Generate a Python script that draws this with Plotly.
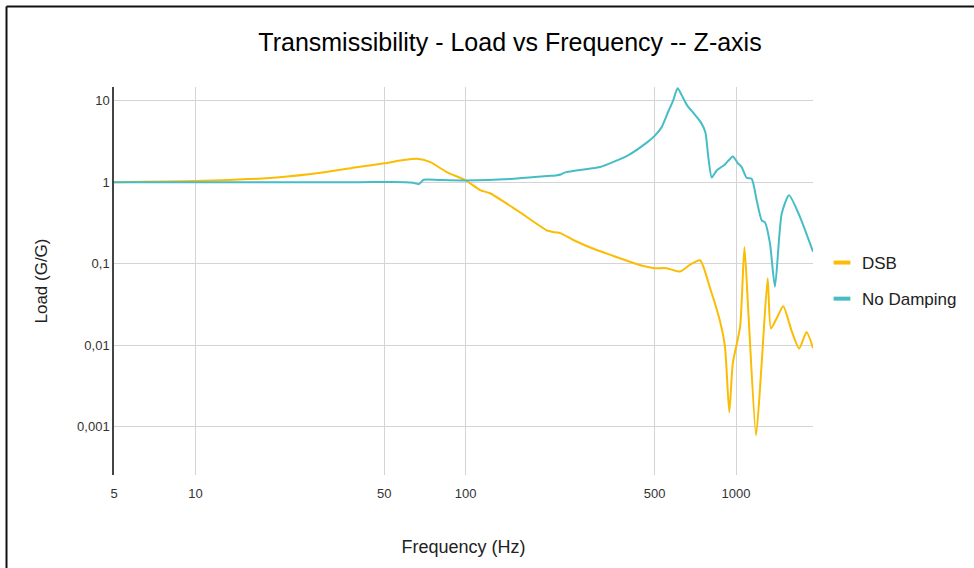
import plotly.graph_objects as go
import math

# ---------------- data ----------------
nd_freq = [5, 10, 20, 40, 60, 64, 67, 70, 80, 100, 150, 200, 215, 225, 232, 287, 314,
           400, 470, 500, 530, 560, 585, 608, 630, 660, 700, 740, 770, 790, 813,
           848, 910, 973, 1016, 1049, 1094, 1142, 1192, 1244, 1280, 1335, 1393,
           1475, 1570, 1726, 1926]
nd_load = [1.0, 1.0, 1.0, 1.0, 1.0, 0.98, 0.945, 1.07, 1.06, 1.05, 1.10, 1.19, 1.21, 1.24, 1.31, 1.46, 1.53,
           2.15, 3.1, 3.7, 4.7, 7.2, 10.0, 14.2, 11.6, 8.7, 6.9, 5.45, 4.1, 2.0, 1.14,
           1.39, 1.65, 2.07, 1.70, 1.53, 1.13, 1.10, 0.60, 0.34, 0.32, 0.177, 0.052,
           0.41, 0.69, 0.37, 0.14]

dsb_freq = [5, 10, 20, 30, 40, 50, 58, 66, 74, 85, 100, 113, 123, 155, 200, 210, 225,
            250, 300, 350, 400, 450, 500, 553, 621, 676, 736, 800, 871, 910, 944, 973,
            1035, 1074, 1111, 1186, 1244, 1309, 1346, 1420, 1495, 1603, 1712, 1823, 1926]
dsb_load = [1.0, 1.03, 1.14, 1.32, 1.53, 1.70, 1.85, 1.94, 1.76, 1.33, 1.05, 0.80, 0.73, 0.45, 0.255, 0.245, 0.235,
            0.195, 0.150, 0.125, 0.107, 0.094, 0.088, 0.088, 0.080, 0.097, 0.110, 0.051, 0.020, 0.0095, 0.0015, 0.006,
            0.0167, 0.16, 0.0245, 0.00078, 0.006, 0.066, 0.016, 0.022, 0.030, 0.0152, 0.0091, 0.0145, 0.0092]

series_names = ["DSB", "No Damping"]
series_colors = ["#FBBC04", "#46BDC6"]

x_tickvals = [5, 10, 50, 100, 500, 1000]
x_ticktext = ["5", "10", "50", "100", "500", "1000"]
y_tickvals = [10, 1, 0.1, 0.01, 0.001]
y_ticktext = ["10", "1", "0,1", "0,01", "0,001"]

title_text = "Transmissibility - Load vs Frequency -- Z-axis"
x_title = "Frequency (Hz)"
y_title = "Load (G/G)"

# ---------------- figure ----------------
W, H = 974, 568
L, R, T, B = 114, 161, 87, 93
pw, ph = W - L - R, H - T - B

def px2paper_x(px):
    return (px - L) / pw

def px2paper_y(py):
    return (H - B - py) / ph

FONT = "Liberation Sans, Arial, sans-serif"

fig = go.Figure()
for name, color, xs, ys in [
    (series_names[0], series_colors[0], dsb_freq, dsb_load),
    (series_names[1], series_colors[1], nd_freq, nd_load),
]:
    fig.add_trace(go.Scatter(
        x=xs, y=ys, mode="lines", name=name, showlegend=False,
        line=dict(color=color, width=2, shape="spline", smoothing=0.6),
        hoverinfo="x+y+name",
    ))
# legend entries with short thick dash
for i, (name, color) in enumerate(zip(series_names, series_colors)):
    fig.add_trace(go.Scatter(
        x=[None], y=[None], mode="markers", name=name, legendgroup=f"g{i}",
        marker=dict(symbol="line-ew", size=12, color=color, line=dict(width=4, color=color)),
    ))

fig.update_layout(
    width=W, height=H,
    margin=dict(l=L, r=R, t=T, b=B, pad=0),
    paper_bgcolor="white", plot_bgcolor="white",
    font=dict(family=FONT, color="#222222", size=13),
    title=dict(text=title_text, font=dict(family=FONT, size=25, color="#000000"),
               x=px2paper_x(510), xref="paper", xanchor="center",
               y=1 - 42 / H, yref="container", yanchor="middle"),
    showlegend=True,
    legend=dict(x=px2paper_x(822), xanchor="left", y=0.5, yanchor="middle",
                font=dict(family=FONT, size=17, color="#222222"),
                traceorder="grouped", tracegroupgap=11, itemwidth=30,
                bgcolor="rgba(0,0,0,0)", borderwidth=0),
    xaxis=dict(type="log", range=[math.log10(5), math.log10(1926)],
               tickvals=x_tickvals, ticktext=x_ticktext,
               showgrid=True, gridcolor="#d4d4d4", gridwidth=1,
               showline=False, zeroline=False, ticks="", ticklabelstandoff=9,
               tickfont=dict(family=FONT, size=13, color="#333333"),
               title=dict(text=x_title, font=dict(family=FONT, size=18, color="#222222"), standoff=40)),
    yaxis=dict(type="log", range=[math.log10(0.000255), math.log10(14.7)],
               tickvals=y_tickvals, ticktext=y_ticktext,
               showgrid=True, gridcolor="#d4d4d4", gridwidth=1,
               showline=True, linecolor="#444444", linewidth=1.5, zeroline=False, ticks="",
               tickfont=dict(family=FONT, size=13, color="#333333"),
               title=dict(text=y_title, font=dict(family=FONT, size=17, color="#222222"), standoff=25)),
)

# frame lines (top and left) of the original screenshot
fig.add_shape(type="line", xref="paper", yref="paper",
              x0=px2paper_x(6.5), x1=px2paper_x(990), y0=px2paper_y(6.5), y1=px2paper_y(6.5),
              line=dict(color="#111111", width=2))
fig.add_shape(type="line", xref="paper", yref="paper",
              x0=px2paper_x(6.5), x1=px2paper_x(6.5), y0=px2paper_y(6.5), y1=px2paper_y(600),
              line=dict(color="#111111", width=2))

fig.write_html("out.html", config={"displayModeBar": False},
               post_script="document.body.style.margin='0';document.body.style.overflow='hidden';")
